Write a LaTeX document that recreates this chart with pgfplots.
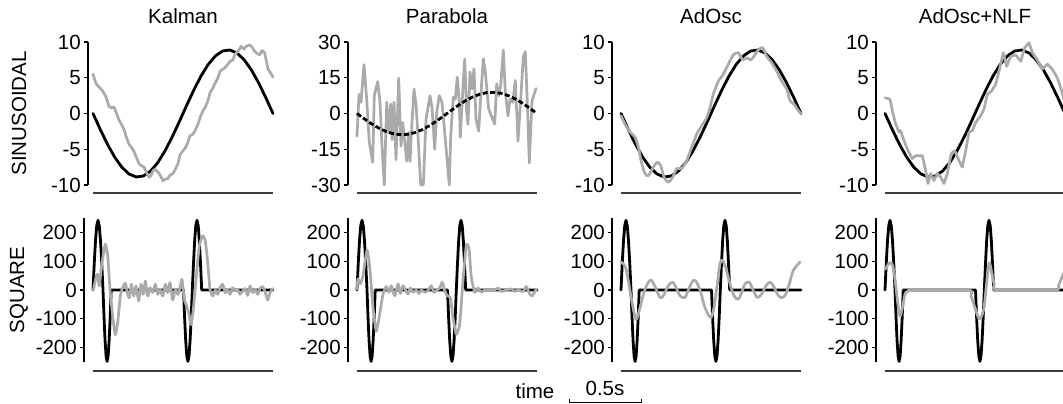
\documentclass[border=0pt]{standalone}
\usepackage{pgfplots}
\usepackage{pgfplotstable}
\pgfplotsset{compat=1.18}
\usepackage{fontspec}
\setmainfont{Liberation Sans}
\definecolor{lgray}{RGB}{170,170,170}
\definecolor{botgray}{RGB}{60,60,60}
\newcommand{\lbl}{\fontsize{20.5}{20.5}\selectfont}
\pgfplotsset{
  panel/.style={scale only axis, axis x line=none, axis y line=left,
    axis line style={-, line width=1.1pt, black},
    tick align=outside, major tick length=4pt, ytick pos=left,
    tick style={line width=1.1pt, black},
    xmax=180, clip=false, anchor=south west,
    yticklabel style={font=\lbl, inner sep=1pt, xshift=-2pt}},
  toprow/.style={height=143pt, ymin=-10, ymax=10, ytick={-10,-5,0,5,10}, yticklabels={-10,-5,0,5,10}},
  parrow/.style={height=143pt, ymin=-30, ymax=30, ytick={-30,-15,0,15,30}, yticklabels={-30,-15,0,15,30}},
  botrow/.style={height=144pt, ymin=-250, ymax=250, ytick={-200,-100,0,100,200}, yticklabels={-200,-100,0,100,200}},
  std/.style={xmin=-9, width=189pt},
  blk/.style={black, line width=2.8pt, line join=round, line cap=round, no markers},
  gry/.style={lgray, line width=2.7pt, line join=round, line cap=round, no markers},
}
\pgfplotstableread{
x y
0 0
7.2 -2.21
14.4 -4.29
21.6 -6.09
28.8 -7.51
36 -8.46
43.2 -8.88
50.4 -8.74
57.6 -8.05
64.8 -6.86
72 -5.23
79.2 -3.28
86.4 -1.12
93.6 1.12
100.8 3.28
108 5.23
115.2 6.86
122.4 8.05
129.6 8.74
136.8 8.88
144 8.46
151.2 7.51
158.4 6.09
165.6 4.29
172.8 2.21
180 0
}\sinblack
\pgfplotstableread{
x y
0 0
1.25 93
2.5 171
3.75 224
5 242
6.25 224
7.5 171
8.75 93
10 0
11.03 -95
12.05 -175
13.08 -229
14.1 -248
15.13 -229
16.15 -175
17.18 -95
18.2 0
90.5 0
91.6 -95
92.7 -175
93.8 -229
94.9 -248
96.0 -229
97.1 -175
98.2 -95
99.3 0
100.5 93
101.65 171
102.8 224
104.0 242
105.2 224
106.35 171
107.5 93
108.7 0
180 0
}\sqblack
\pgfplotstableread{
x y
0 5.5
3 4.2
6.7 3.6
10 3.1
13.3 2.2
16 1.0
18.3 0.8
21 0.9
23.3 0.1
26 -0.9
28.3 -1.5
31 -2.2
33.3 -3.3
36 -4.3
38.3 -4.7
41 -5.3
43.3 -6.1
46 -7.0
48.3 -7.3
51 -7.5
53.3 -8.2
56 -8.9
58 -8.7
60 -8.0
62 -7.8
65 -8.2
67 -8.6
70 -9.4
72 -9.2
75 -9.1
77 -8.6
80 -8.4
82 -7.9
85 -7.0
87 -5.8
90 -5.2
92 -4.9
95 -4.0
97 -3.1
100 -2.9
102 -2.4
105 -1.5
107 -0.6
110 0.4
112 0.8
115 1.8
117 2.9
120 3.6
122 4.2
125 5.0
127 5.9
130 6.2
132 6.4
135 6.9
137 7.3
140 7.5
142 8.3
145 8.7
148.3 9.4
151 9.0
153.3 9.4
156.7 9.6
159 9.3
161.7 8.7
164 8.4
166.7 8.2
169 8.8
171.7 8.5
173 7.6
175 6.2
177 5.8
180 5.1
}\kalsin
\pgfplotstableread{
x y
0 -9.5
2 8
4 4.7
7 20.5
9.7 6
12.3 -12
15.7 -20.5
17.3 7.5
20.7 13.4
23 4.7
25 -13.7
27.3 -30
29.7 4.7
31.7 -8
33.7 4
35 -11
37 4.7
39 -19.4
41.7 14.8
44 -13.7
45.7 -3.8
47.7 -11.6
49.7 -20
51.7 -8
53 -20
55 -3.8
57 10.3
59 4
61 -9.5
63.7 -30
66.3 -30
69 -2.4
71 2.5
73 7.5
75 2.5
77.7 -15
79.7 0.4
82.3 7.5
85 4.7
87.3 -6
92.3 -30
93.7 -9.5
96.3 6.8
98.3 6
100.3 15.3
102.3 4.7
103.3 -10
105.7 9
107.7 22.8
109.7 0.4
111 -4.5
113 17.4
115 10.3
117 18.8
119 -2.4
121.7 -7.4
123.7 6.8
126.3 23
128.3 17.4
131.7 1.8
137.7 -4.5
139.7 12.4
141.7 7.5
143.7 11.7
146.3 26.6
148.3 9
151 -1
153 6
155.7 4.7
158.3 13.9
161 -11.6
163.7 6
166.3 23.8
168.3 25.9
170.3 4.7
172.3 -20.8
175 5.3
179 10.5
}\parsin
\pgfplotstableread{
x y
0.3 0
3 43
4.7 55
6.3 14
9 95
12.3 159
14.7 119
17 2
19.7 -91
22.3 -155
24.7 -114
27.3 -21
29.7 8
32.3 23
34.3 -9
36.3 -27
38.3 20
40.7 -21
43 14
45.7 -38
48 20
50.3 -15
52.3 31
54.7 -21
57 8
59.7 -9
62.3 20
64.7 -15
67 2
69.7 -21
72.3 20
74.7 -9
77 26
79.7 -35
82.3 2
85 -15
87.3 14
89 37
91.3 -33
93 -50
95.7 -79
98 -120
100.3 -67
103 37
106.3 153
109.7 188
112.3 171
114.7 95
117 2
119.7 -21
122.3 0
124.7 -15
127 8
129.7 20
132.3 -9
134.7 2
137 -15
139.7 8
142.3 -3
144.7 2
147 -15
149.7 -3
152.3 5
154.7 -19
157 14
159.7 -9
162.3 2
164.7 -15
167 5
169.7 12
172.3 -9
174.7 -35
177 -9
179.7 5
}\kalsq
\pgfplotstableread{
x y
0 3
1 39
3.3 21
6 50
10 138
12.7 80
16 -61
19.3 -143
22.7 -84
26 -14
29.3 12
32 -8
34.3 15
37.7 -20
41 21
43.3 -12
46 15
48.7 -2
51 -14
53.3 7
56 -8
59.3 0
62 -12
64.3 0
67.7 -8
71 -2
74.3 15
76.7 -8
79.3 -2
82.7 7
85.3 27
87.7 -2
90 -20
93.3 -26
96 -96
99.3 -154
102.7 -119
106 33
109.3 156
112 144
114.3 44
117.7 -8
121 7
124.3 -8
127.7 0
132.7 -2
137.7 0
141 7
144.3 -5
149.3 0
154.3 4
157.7 -5
161 0
166 -5
169.3 12
172.7 -14
175.3 -20
179.3 4
}\parsq
\pgfplotstableread{
x y
0 -0.3
4 -1.5
9 -2.6
14 -3.3
17.3 -4.7
20.7 -7.0
24 -8.4
27.3 -8.7
32.3 -7.5
36.3 -6.8
39.7 -7.3
43 -8.9
47.3 -9.6
51.7 -8.9
55.7 -7.7
60.7 -7.7
65.7 -6.6
70.7 -4.7
75.7 -2.9
80.7 -1.7
85.7 -0.6
89 0.8
92.3 2.7
97.3 4.5
102.3 5.5
107.3 6.9
112.3 8.2
117.3 8.5
121.7 7.5
125.7 7.8
129.7 7.5
133 8.0
137.3 8.9
141.7 9.2
145.7 8.0
150.7 7.1
155.7 5.9
160.7 4.5
165.7 3.4
169 1.8
173 1.3
177.3 0.4
180 0
}\adosin
\pgfplotstableread{
x y
0 97
2.3 91
5 74
7.3 33
10.7 -37
15 -102
19 -61
23 -8
27.3 27
30.7 33
35 4
39 -26
42.3 -20
47.3 15
51.7 27
55.7 4
59 -20
64 -26
68.3 9
72.3 33
75.7 27
79.7 -8
84 -61
89.7 -96
93 -61
96.3 21
99 91
101.7 103
105 74
109 21
113 -20
117.3 -32
120.7 -8
124 21
128.3 27
132.3 -2
136.3 -26
140.7 -14
145 15
149 27
152.3 15
156.3 -14
159.7 -26
164 -20
168.3 21
172.3 68
179 97
}\adosq
\pgfplotstableread{
x y
0 2.2
5 2.0
7.3 0.4
10.7 -1.5
14 -2.6
15.7 -2.4
19 -3.8
23 -5.2
27.3 -6.3
30.7 -5.9
37.3 -5.9
40.7 -8.0
43 -9.8
45.7 -8.4
49 -9.4
52.3 -8.4
55.7 -8.9
59 -9.8
62.3 -8.4
66.3 -5.6
69.7 -5.2
74 -6.6
77.3 -7.5
80.7 -5.2
84 -2.6
87.3 -2.4
90.7 -1.25
95.7 -0.3
99 0.6
102.3 2.7
106.3 3.1
110.7 4.1
114 5.9
118.3 8.5
121.7 6.6
125.7 8.0
130.7 8.2
135.7 7.3
139.7 9.2
144 9.9
147.3 8.5
152.3 7.5
157.3 6.2
162.3 6.9
167.3 6.2
172.3 5.0
177.3 2.9
179 1.8
}\nlfsin
\pgfplotstableread{
x y
0 72
2.7 86
5.3 95
7.7 84
10 37
12.7 -44
15 -91
17.7 -56
20 -15
23.3 -3
29.3 0
82.7 0
86 -21
90 -62
94.3 -100
98.7 -67
102 37
104.3 95
106.7 60
109.3 20
112.7 0
169.3 0
173.3 14
176 37
179 60
}\nlfsq
\begin{document}
\begin{tikzpicture}
% ---------- top row ----------
\begin{axis}[panel, toprow, xmin=-5, width=185pt, at={(88pt,219pt)}]
\addplot[blk] table {\sinblack};
\addplot[gry] table {\kalsin};
\draw[botgray, line width=1.8pt] ([yshift=-8pt]axis cs:0,-10) -- ([yshift=-8pt]axis cs:180,-10);
\node[anchor=base, font=\lbl] at ([yshift=18pt]axis cs:90,10) {Kalman};
\end{axis}
\begin{axis}[panel, parrow, std, at={(348pt,219pt)}]
\addplot[gry] table {\parsin};
\addplot[black, line width=2.8pt, dash pattern=on 5pt off 2.5pt, no markers] table {\sinblack};
\draw[botgray, line width=1.8pt] ([yshift=-8pt]axis cs:0,-30) -- ([yshift=-8pt]axis cs:180,-30);
\node[anchor=base, font=\lbl] at ([yshift=18pt]axis cs:90,30) {Parabola};
\end{axis}
\begin{axis}[panel, toprow, std, at={(612pt,219pt)}]
\addplot[blk] table {\sinblack};
\addplot[gry, smooth, tension=0.4] table {\adosin};
\draw[botgray, line width=1.8pt] ([yshift=-8pt]axis cs:0,-10) -- ([yshift=-8pt]axis cs:180,-10);
\node[anchor=base, font=\lbl] at ([yshift=18pt]axis cs:90,10) {AdOsc};
\end{axis}
\begin{axis}[panel, toprow, std, at={(876pt,219pt)}]
\addplot[blk] table {\sinblack};
\addplot[gry] table {\nlfsin};
\draw[botgray, line width=1.8pt] ([yshift=-8pt]axis cs:0,-10) -- ([yshift=-8pt]axis cs:180,-10);
\node[anchor=base, font=\lbl] at ([yshift=18pt]axis cs:90,10) {AdOsc+NLF};
\end{axis}
% ---------- bottom row ----------
\begin{axis}[panel, botrow, std, at={(84pt,42pt)}]
\addplot[blk] table {\sqblack};
\addplot[gry, smooth, tension=0.3] table {\kalsq};
\draw[botgray, line width=1.8pt] ([yshift=-9pt]axis cs:0,-250) -- ([yshift=-9pt]axis cs:180,-250);
\end{axis}
\begin{axis}[panel, botrow, std, at={(348pt,42pt)}]
\addplot[blk] table {\sqblack};
\addplot[gry, smooth, tension=0.3] table {\parsq};
\draw[botgray, line width=1.8pt] ([yshift=-9pt]axis cs:0,-250) -- ([yshift=-9pt]axis cs:180,-250);
\end{axis}
\begin{axis}[panel, botrow, std, at={(612pt,42pt)}]
\addplot[blk] table {\sqblack};
\addplot[gry, smooth, tension=0.5] table {\adosq};
\draw[botgray, line width=1.8pt] ([yshift=-9pt]axis cs:0,-250) -- ([yshift=-9pt]axis cs:180,-250);
\end{axis}
\begin{axis}[panel, botrow, std, at={(876pt,42pt)}]
\addplot[blk] table {\sqblack};
\addplot[gry, smooth, tension=0.5] table {\nlfsq};
\draw[botgray, line width=1.8pt] ([yshift=-9pt]axis cs:0,-250) -- ([yshift=-9pt]axis cs:180,-250);
\end{axis}
% ---------- labels ----------
\node[rotate=90, font=\lbl] at (19pt,290.5pt) {SINUSOIDAL};
\node[rotate=90, font=\lbl] at (19pt,114pt) {SQUARE};
\node[anchor=base, font=\lbl] at (535pt,5pt) {time};
\node[anchor=base, font=\lbl] at (605pt,8pt) {0.5s};
\draw[line width=1pt, black] (569pt,4.5pt) -- (569pt,1pt) -- (641pt,1pt) -- (641pt,4.5pt);
\pgfresetboundingbox
\useasboundingbox (0pt,0pt) rectangle (1063pt,404pt);
\end{tikzpicture}
\end{document}
